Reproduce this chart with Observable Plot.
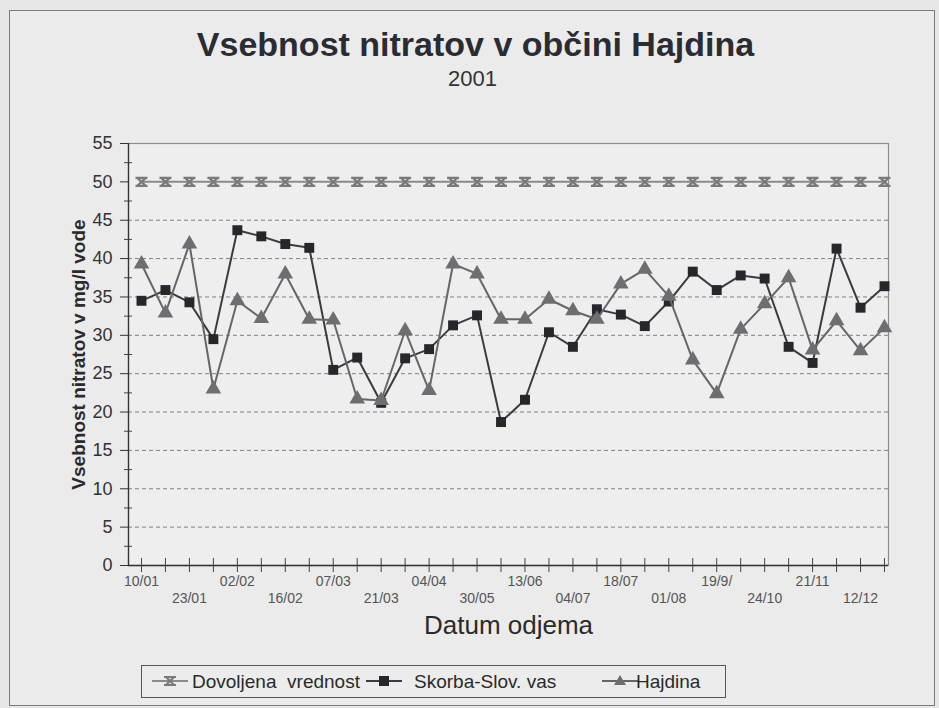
<!DOCTYPE html>
<html>
<head>
<meta charset="utf-8">
<script src="https://cdn.jsdelivr.net/npm/d3@7"></script>
<script src="https://cdn.jsdelivr.net/npm/@observablehq/plot@0.6"></script>
<style>
  html, body { margin: 0; padding: 0; background: #e7e7e7; }
  body { width: 939px; height: 708px; position: relative; overflow: hidden; font-family: "Liberation Sans", Arial, sans-serif; color: #2a2a2a; }
  #outer { position: absolute; left: 9px; top: 10px; width: 924px; height: 694px; border: 1px solid #7a7a7a; background: #ebebeb; }
  .t { position: absolute; left: 0; width: 939px; text-align: center; white-space: pre; }
  #title { top: 27px; font-size: 34px; line-height: 34px; font-weight: bold; color: #2b2b33; padding-left: 12px; box-sizing: border-box; }
  #subtitle { top: 68px; font-size: 22px; line-height: 22px; color: #333; padding-left: 6px; box-sizing: border-box; }
  #chart { position: absolute; left: 0; top: 120px; }
  #legend { position: absolute; left: 141px; top: 665px; width: 585px; height: 33px; border: 1px solid #555; box-sizing: border-box; background: #ececec; }
  .li { position: absolute; top: 6px; font-size: 19px; line-height: 19px; white-space: pre; color: #2a2a2a; }
  .sw { position: absolute; top: 5px; }
</style>
</head>
<body>
<div id="outer"></div>
<div id="title" class="t">Vsebnost nitratov v občini Hajdina</div>
<div id="subtitle" class="t">2001</div>
<div id="chart"></div>
<div id="legend"></div>
<script>
// ---- data ----
const seriesNames = ["Dovoljena  vrednost", "Skorba-Slov. vas", "Hajdina"];
const sampleIndex = [0,1,2,3,4,5,6,7,8,9,10,11,12,13,14,15,16,17,18,19,20,21,22,23,24,25,26,27,28,29,30,31];
const tickLabels = ["10/01","23/01","02/02","16/02","07/03","21/03","04/04","30/05","13/06","04/07","18/07","01/08","19/9/","24/10","21/11","12/12"];
const labelIndex = [0,2,4,6,8,10,12,14,16,18,20,22,24,26,28,30];
const dovoljena = [50,50,50,50,50,50,50,50,50,50,50,50,50,50,50,50,50,50,50,50,50,50,50,50,50,50,50,50,50,50,50,50];
const skorba = [34.5,35.9,34.3,29.5,43.7,42.9,41.9,41.4,25.5,27.1,21.2,27.0,28.2,31.3,32.6,18.7,21.6,30.4,28.5,33.4,32.7,31.2,34.4,38.3,35.9,37.8,37.4,28.5,26.4,41.3,33.6,36.4];
const hajdina = [39.3,32.9,41.9,23.0,34.5,32.2,38.0,32.1,32.0,21.7,21.5,30.6,22.8,39.3,38.0,32.1,32.1,34.7,33.2,32.1,36.7,38.6,35.1,26.8,22.4,30.8,34.1,37.5,28.1,31.9,28.0,31.0];
const yTicks = [0,5,10,15,20,25,30,35,40,45,50,55];
const yMinorTicks = [2.5,7.5,12.5,17.5,22.5,27.5,32.5,37.5,42.5,47.5,52.5];
const gridValues = [5,10,15,20,25,30,35,40,45];
const yLabel = "Vsebnost nitratov v mg/l vode";
const xLabel = "Datum odjema";

const xDomain = [-0.542, 31.167];

const rows = (vals) => sampleIndex.map((i) => ({ i, v: vals[i] }));
const dData = rows(dovoljena), sData = rows(skorba), hData = rows(hajdina);
const topRowTicks = labelIndex.filter((d, k) => k % 2 === 0);
const botRowTicks = labelIndex.filter((d, k) => k % 2 === 1);
const labelOf = (i) => tickLabels[labelIndex.indexOf(i)];

const hourglass = {
  draw(ctx, size) {
    const w = 6, h = 4;
    ctx.moveTo(-w, -h); ctx.lineTo(w, -h);
    ctx.moveTo(-w, h); ctx.lineTo(w, h);
    ctx.moveTo(-w * 0.7, -h); ctx.lineTo(w * 0.7, h);
    ctx.moveTo(w * 0.7, -h); ctx.lineTo(-w * 0.7, h);
  }
};

const chart = Plot.plot({
  width: 939, height: 520,
  marginTop: 23, marginBottom: 75, marginLeft: 128, marginRight: 51,
  style: { background: "transparent", fontFamily: "Liberation Sans, Arial, sans-serif", color: "#2a2a2a", overflow: "visible" },
  x: { type: "linear", domain: xDomain, axis: null },
  y: { domain: [0, 55], axis: null },
  marks: [
    Plot.frame({ fill: "#eeeeee", stroke: "#8c8c8c", strokeWidth: 1.2 }),
    Plot.ruleY(gridValues, { stroke: "#808080", strokeDasharray: "4,3", strokeWidth: 1 }),
    Plot.axisY({ ticks: yTicks, label: null, tickSize: 8, tickPadding: 8, fontSize: 18, stroke: "#333", fill: "#333" }),
    Plot.axisY({ ticks: yMinorTicks, label: null, tickSize: 8, dx: 4, tickFormat: () => "", stroke: "#444" }),
    Plot.ruleX([xDomain[0]], { stroke: "#333", strokeWidth: 1.3 }),
    Plot.ruleY([0], { stroke: "#333", strokeWidth: 1.3 }),
    Plot.axisX({ ticks: sampleIndex, label: null, tickSize: 14, dy: -7, tickFormat: () => "", stroke: "#444" }),
    Plot.axisX({ ticks: topRowTicks, label: null, tickSize: 0, tickPadding: 11, tickFormat: labelOf, fontSize: 14, fill: "#555" }),
    Plot.axisX({ ticks: botRowTicks, label: null, tickSize: 0, tickPadding: 28, tickFormat: labelOf, fontSize: 14, fill: "#555" }),
    Plot.text([yLabel], { frameAnchor: "left", dx: -50, rotate: -90, textAnchor: "middle", text: (d) => d, fontSize: 19, fontWeight: "bold", fill: "#2a2a2a" }),
    Plot.text([xLabel], { frameAnchor: "bottom", dy: 68, textAnchor: "middle", text: (d) => d, fontSize: 26, fill: "#2a2a2a" }),
    // Dovoljena vrednost
    Plot.line(dData, { x: "i", y: "v", stroke: "#8a8a8a", strokeWidth: 2 }),
    Plot.dot(dData, { x: "i", y: "v", symbol: hourglass, stroke: "#7a7a7a", strokeWidth: 2.2, fill: "none" }),
    // Skorba
    Plot.line(sData, { x: "i", y: "v", stroke: "#3a3a40", strokeWidth: 2 }),
    Plot.dot(sData, { x: "i", y: "v", symbol: "square", r: 5.6, fill: "#26262c", stroke: "none" }),
    // Hajdina
    Plot.line(hData, { x: "i", y: "v", stroke: "#66666a", strokeWidth: 2 }),
    Plot.dot(hData, { x: "i", y: "v", symbol: "triangle", r: 5.8, fill: "#6e6e72", stroke: "none" })
  ]
});
document.getElementById("chart").appendChild(chart);

// ---- legend ----
const legend = document.getElementById("legend");
const sw = {
  0: `<line x1="2" y1="10" x2="38" y2="10" stroke="#8a8a8a" stroke-width="2"/><path d="M14,6H26M14,14H26M16,6L24,14M24,6L16,14" stroke="#7a7a7a" stroke-width="2" fill="none"/>`,
  1: `<line x1="2" y1="10" x2="38" y2="10" stroke="#3a3a40" stroke-width="2"/><rect x="15" y="5" width="10" height="10" fill="#26262c"/>`,
  2: `<line x1="2" y1="10" x2="38" y2="10" stroke="#66666a" stroke-width="2"/><path d="M20,4L26,14H14Z" fill="#6e6e72"/>`
};
const swX = [8, 222, 458];
const txX = [50, 272, 494];
seriesNames.forEach((name, k) => {
  const s = document.createElement("div");
  s.className = "sw"; s.style.left = swX[k] + "px";
  s.innerHTML = `<svg width="40" height="20">${sw[k]}</svg>`;
  legend.appendChild(s);
  const t = document.createElement("div");
  t.className = "li"; t.style.left = txX[k] + "px"; t.textContent = name;
  legend.appendChild(t);
});
</script>
</body>
</html>
